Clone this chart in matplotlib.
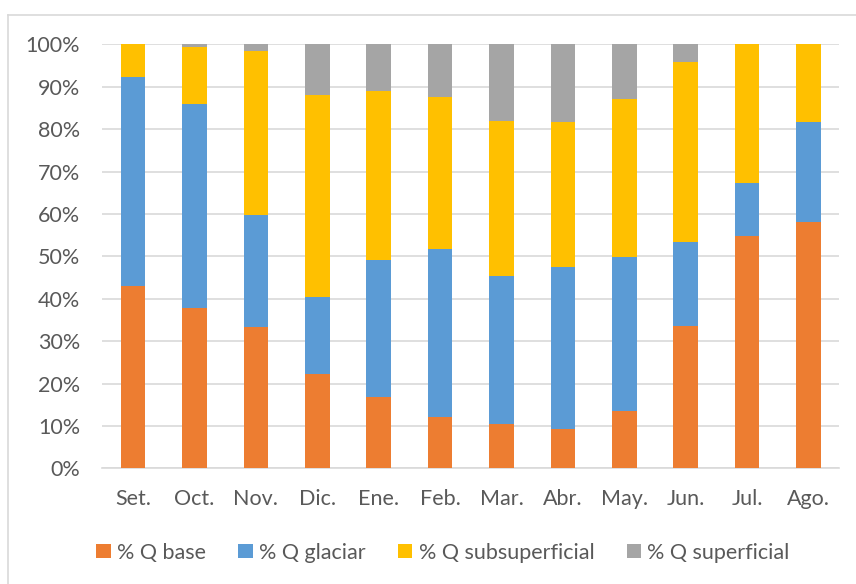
import matplotlib
matplotlib.use("Agg")
import matplotlib.pyplot as plt
from matplotlib.lines import Line2D
from matplotlib.ticker import PercentFormatter
import numpy as np

months = ["Set.", "Oct.", "Nov.", "Dic.", "Ene.", "Feb.",
          "Mar.", "Abr.", "May.", "Jun.", "Jul.", "Ago."]

q_base = [42.9, 37.7, 33.3, 22.2, 16.7, 12.1, 10.4, 9.3, 13.5, 33.5, 54.7, 58.2]
q_glaciar = [49.4, 48.3, 26.5, 18.2, 32.4, 39.7, 34.9, 38.1, 36.4, 19.9, 12.7, 23.5]
q_subsuperficial = [7.7, 13.3, 38.6, 47.6, 40.0, 35.7, 36.6, 34.3, 37.1, 42.4, 32.6, 18.3]
q_superficial = [0.0, 0.7, 1.6, 12.0, 10.9, 12.5, 18.1, 18.3, 13.0, 4.2, 0.0, 0.0]

series = [
    ("% Q base", q_base, "#ED7D31"),
    ("% Q glaciar", q_glaciar, "#5B9BD5"),
    ("% Q subsuperficial", q_subsuperficial, "#FFC000"),
    ("% Q superficial", q_superficial, "#A5A5A5"),
]

plt.rcParams["font.family"] = ["Lato", "DejaVu Sans"]
text_color = "#595959"
grid_color = "#D9D9D9"
fs = 15.5

fig = plt.figure(figsize=(8.56, 5.84), dpi=100)
ax = fig.add_axes([102.3 / 856, 1 - 468.3 / 584, 737 / 856, 424 / 584])

x = np.arange(len(months))
bottom = np.zeros(len(months))
handles = []
for label, vals, color in series:
    vals = np.array(vals)
    b = ax.bar(x, vals, width=0.40, bottom=bottom, color=color,
               label=label, linewidth=0, zorder=3)
    handles.append(b)
    bottom += vals

ax.set_xlim(-0.5, len(months) - 0.5)
ax.set_ylim(0, 100)
ax.set_yticks(np.arange(0, 101, 10))
ax.yaxis.set_major_formatter(PercentFormatter(decimals=0))
ax.set_xticks(x)
ax.set_xticklabels(months)

ax.grid(axis="y", color=grid_color, linewidth=1.2, zorder=0)
for s in ["top", "right", "left"]:
    ax.spines[s].set_visible(False)
ax.spines["bottom"].set_color(grid_color)
ax.spines["bottom"].set_linewidth(1.2)
ax.tick_params(axis="both", length=0, labelsize=fs, colors=text_color)
ax.tick_params(axis="y", pad=16)
ax.tick_params(axis="x", pad=15)

fig.legend(handles=handles, loc="center", bbox_to_anchor=(0.5175, 1 - 552.7 / 584),
           ncol=4, frameon=False, fontsize=fs, labelcolor=text_color,
           handlelength=0.66, handleheight=0.66, handletextpad=0.3,
           columnspacing=1.5, borderpad=0)

# chart-area outline (left and top edges)
fig.add_artist(Line2D([8 / 856, 8 / 856], [0, 1 - 15 / 584],
                      transform=fig.transFigure, color=grid_color, linewidth=1.2))
fig.add_artist(Line2D([8 / 856, 1], [1 - 15 / 584, 1 - 15 / 584],
                      transform=fig.transFigure, color=grid_color, linewidth=1.2))

fig.savefig("out.png", dpi=100)
